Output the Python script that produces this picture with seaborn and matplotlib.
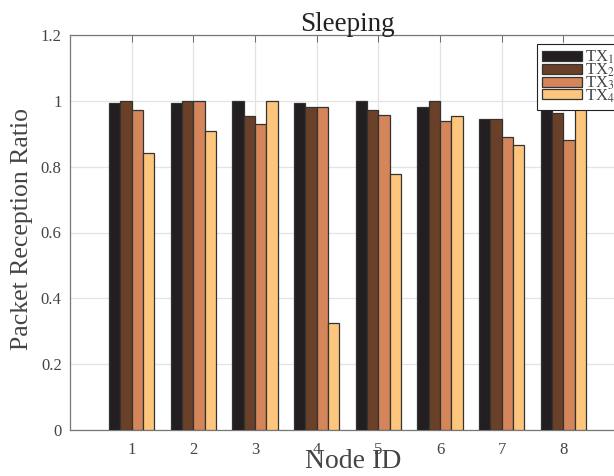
import matplotlib
matplotlib.use("Agg")
import matplotlib.pyplot as plt
import seaborn as sns
import pandas as pd

# Packet reception ratio per node for each transmitter
node_ids = [1, 2, 3, 4, 5, 6, 7, 8]
tx1 = [0.992, 0.992, 1.000, 0.992, 1.000, 0.982, 0.946, 0.995]
tx2 = [0.998, 1.000, 0.955, 0.981, 0.972, 1.000, 0.946, 0.964]
tx3 = [0.973, 1.000, 0.931, 0.981, 0.957, 0.939, 0.890, 0.881]
tx4 = [0.843, 0.909, 1.000, 0.324, 0.777, 0.954, 0.866, 1.000]
series_labels = ["TX$_1$", "TX$_2$", "TX$_3$", "TX$_4$"]
y_ticks = [0, 0.2, 0.4, 0.6, 0.8, 1.0, 1.2]

df = pd.DataFrame({
    "Node ID": node_ids * 4,
    "PRR": tx1 + tx2 + tx3 + tx4,
    "Transmitter": sum([[lab] * len(node_ids) for lab in series_labels], []),
})

sns.set_style("white")
plt.rcParams["font.family"] = ["Liberation Serif", "DejaVu Serif"]
plt.rcParams["mathtext.fontset"] = "stix"

palette = ["#231f20", "#6a4128", "#d4855a", "#fdc67c"]
text_grey = "#444444"

fig = plt.figure(figsize=(6.14, 4.76), dpi=100)
ax = fig.add_axes([70 / 614, 46 / 476, 555 / 614, 395 / 476])

sns.barplot(data=df, x="Node ID", y="PRR", hue="Transmitter",
            hue_order=series_labels, palette=palette, native_scale=True,
            width=0.73, errorbar=None, edgecolor="#333333", linewidth=0.9,
            saturation=1, ax=ax, zorder=3)

ax.set_xlim(0, 9)
ax.set_ylim(0, 1.2)
ax.set_xticks(node_ids)
ax.set_xticklabels([str(n) for n in node_ids])
ax.set_yticks(y_ticks)
ax.set_yticklabels([f"{v:g}" for v in y_ticks])
ax.tick_params(axis="both", direction="in", length=5, width=0.6,
               colors="#555555", labelcolor=text_grey, labelsize=12,
               top=True)
ax.tick_params(axis="x", pad=9)
ax.tick_params(axis="y", pad=6)

ax.grid(True, color="#e3e3e3", linewidth=0.9, zorder=0)
ax.set_axisbelow(True)
for s in ax.spines.values():
    s.set_color("#777777")
    s.set_linewidth(0.9)

ax.set_xlabel("Node ID", fontsize=20, color=text_grey)
ax.xaxis.set_label_coords(0.51, -0.048)
ax.set_ylabel("Packet Reception Ratio", fontsize=18.5, color=text_grey)
ax.yaxis.set_label_coords(-0.066, 0.509)
ax.set_title("Sleeping", fontsize=19.5, color="#222222", pad=3)

handles, labels = ax.get_legend_handles_labels()
ax.legend(handles, labels, loc="upper left",
          bbox_to_anchor=(537 / 614, 1 - 44 / 476), bbox_transform=fig.transFigure,
          fontsize=12, frameon=True, fancybox=False, edgecolor="#222222",
          framealpha=1, borderpad=0.3, labelspacing=-0.28, handlelength=2.4,
          handleheight=0.55, handletextpad=0.2, borderaxespad=0)
leg = ax.get_legend()
leg.get_frame().set_linewidth(0.8)
for t in leg.get_texts():
    t.set_color(text_grey)
leg.set_zorder(10)

fig.savefig("out.png", dpi=100)
